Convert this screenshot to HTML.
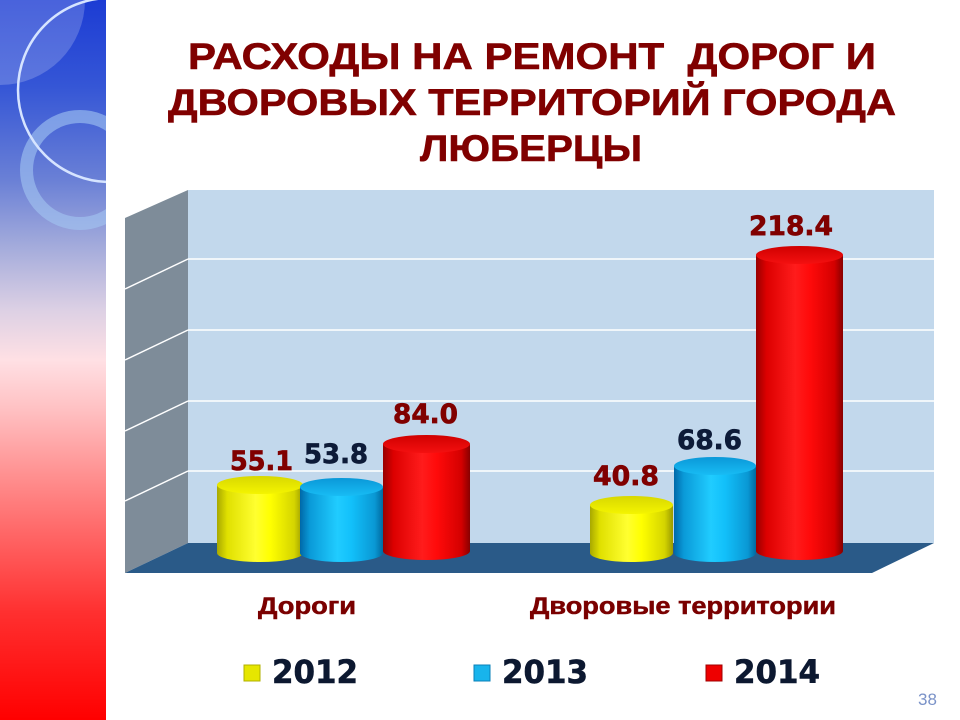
<!DOCTYPE html>
<html><head><meta charset="utf-8"><style>
html,body{margin:0;padding:0;background:#fff;}
svg{display:block;}
</style></head><body>
<svg width="960" height="720" viewBox="0 0 960 720" xmlns="http://www.w3.org/2000/svg">
<defs>
<linearGradient id="strip" x1="0" y1="0" x2="0" y2="1">
<stop offset="0" stop-color="#1c3cd4"/>
<stop offset="0.12" stop-color="#3556d6"/>
<stop offset="0.25" stop-color="#6a80d6"/>
<stop offset="0.34" stop-color="#a2aadb"/>
<stop offset="0.43" stop-color="#dcd0e4"/>
<stop offset="0.5" stop-color="#ffe0e4"/>
<stop offset="0.57" stop-color="#ffc0c2"/>
<stop offset="0.66" stop-color="#ff9090"/>
<stop offset="0.75" stop-color="#ff6262"/>
<stop offset="0.85" stop-color="#ff3030"/>
<stop offset="1" stop-color="#ff0000"/>
</linearGradient>
<clipPath id="stripclip"><rect x="0" y="0" width="106" height="720"/></clipPath>
<linearGradient id="yb" x1="0" y1="0" x2="1" y2="0">
<stop offset="0" stop-color="#a8a800"/><stop offset="0.12" stop-color="#e0e000"/>
<stop offset="0.45" stop-color="#ffff30"/><stop offset="0.62" stop-color="#ffff00"/>
<stop offset="0.9" stop-color="#d4d400"/><stop offset="1" stop-color="#9a9a00"/>
</linearGradient>
<linearGradient id="yt" x1="0" y1="0" x2="0" y2="1">
<stop offset="0" stop-color="#d8d800"/><stop offset="1" stop-color="#f4f400"/>
</linearGradient>
<linearGradient id="bb" x1="0" y1="0" x2="1" y2="0">
<stop offset="0" stop-color="#0068a8"/><stop offset="0.12" stop-color="#0a9ad8"/>
<stop offset="0.45" stop-color="#20ccff"/><stop offset="0.62" stop-color="#12c0fa"/>
<stop offset="0.9" stop-color="#0a98d4"/><stop offset="1" stop-color="#006aa0"/>
</linearGradient>
<linearGradient id="bt" x1="0" y1="0" x2="0" y2="1">
<stop offset="0" stop-color="#0a98d8"/><stop offset="1" stop-color="#18bcf4"/>
</linearGradient>
<linearGradient id="rb" x1="0" y1="0" x2="1" y2="0">
<stop offset="0" stop-color="#980000"/><stop offset="0.12" stop-color="#dc0000"/>
<stop offset="0.45" stop-color="#ff1c1c"/><stop offset="0.62" stop-color="#ff0a0a"/>
<stop offset="0.9" stop-color="#d40000"/><stop offset="1" stop-color="#880000"/>
</linearGradient>
<linearGradient id="rt" x1="0" y1="0" x2="0" y2="1">
<stop offset="0" stop-color="#d00000"/><stop offset="1" stop-color="#f41010"/>
</linearGradient>
</defs>

<!-- left decorative strip -->
<rect x="0" y="0" width="106" height="720" fill="url(#strip)"/>
<g clip-path="url(#stripclip)">
<path d="M0,0 L85,0 A85,85 0 0 1 0,85 Z" fill="#ffffff" fill-opacity="0.2"/>
<circle cx="80" cy="170" r="53.5" fill="none" stroke="#a4c6f2" stroke-opacity="0.6" stroke-width="13"/>
<circle cx="110" cy="90" r="92" fill="none" stroke="#d6e4ff" stroke-width="2.5"/>
</g>

<!-- title -->
<g font-family="'Liberation Sans', 'DejaVu Sans', sans-serif" font-weight="bold" font-size="37" fill="#800000" stroke="#800000" stroke-width="0.6">
<text x="188" y="69" textLength="688" lengthAdjust="spacingAndGlyphs" xml:space="preserve">РАСХОДЫ НА РЕМОНТ  ДОРОГ И</text>
<text x="168" y="115" textLength="728" lengthAdjust="spacingAndGlyphs">ДВОРОВЫХ ТЕРРИТОРИЙ ГОРОДА</text>
<text x="420" y="161" textLength="222" lengthAdjust="spacingAndGlyphs">ЛЮБЕРЦЫ</text>
</g>

<!-- chart walls -->
<rect x="188" y="190" width="746" height="353" fill="#c2d8ec"/>
<polygon points="125,218 188,190 188,543 125,573" fill="#7e8c99"/>
<g stroke="#ffffff" stroke-width="1.5">
<line x1="188" y1="259" x2="934" y2="259"/>
<line x1="188" y1="330" x2="934" y2="330"/>
<line x1="188" y1="401" x2="934" y2="401"/>
<line x1="188" y1="471" x2="934" y2="471"/>
<line x1="188" y1="259" x2="125" y2="289"/>
<line x1="188" y1="330" x2="125" y2="360"/>
<line x1="188" y1="401" x2="125" y2="431"/>
<line x1="188" y1="471" x2="125" y2="501"/>
</g>
<polygon points="188,543 934,543 872,573 125,573" fill="#2a5a88"/>

<!-- cylinders group 1 -->
<path d="M217,485 L217,553 A43,9 0 0 0 303,553 L303,485 Z" fill="url(#yb)"/>
<ellipse cx="260" cy="485" rx="43" ry="9" fill="url(#yt)"/>
<path d="M300,487 L300,553 A41.5,9 0 0 0 383,553 L383,487 Z" fill="url(#bb)"/>
<ellipse cx="341.5" cy="487" rx="41.5" ry="9" fill="url(#bt)"/>
<path d="M383,444 L383,551 A43.5,9 0 0 0 470,551 L470,444 Z" fill="url(#rb)"/>
<ellipse cx="426.5" cy="444" rx="43.5" ry="9" fill="url(#rt)"/>

<!-- cylinders group 2 -->
<path d="M590,505 L590,553 A41.5,9 0 0 0 673,553 L673,505 Z" fill="url(#yb)"/>
<ellipse cx="631.5" cy="505" rx="41.5" ry="9" fill="url(#yt)"/>
<path d="M674,466 L674,553 A41,9 0 0 0 756,553 L756,466 Z" fill="url(#bb)"/>
<ellipse cx="715" cy="466" rx="41" ry="9" fill="url(#bt)"/>
<path d="M756,255 L756,551 A43.5,9 0 0 0 843,551 L843,255 Z" fill="url(#rb)"/>
<ellipse cx="799.5" cy="255" rx="43.5" ry="9" fill="url(#rt)"/>

<!-- data labels -->
<g font-family="'DejaVu Sans', 'Liberation Sans', sans-serif" font-weight="bold" font-size="27" stroke-width="0.7">
<text x="230" y="470" textLength="63" lengthAdjust="spacingAndGlyphs" fill="#800000" stroke="#800000">55.1</text>
<text x="304" y="463" textLength="64" lengthAdjust="spacingAndGlyphs" fill="#0d1b38" stroke="#0d1b38">53.8</text>
<text x="393" y="423" textLength="65" lengthAdjust="spacingAndGlyphs" fill="#800000" stroke="#800000">84.0</text>
<text x="593" y="485" textLength="66" lengthAdjust="spacingAndGlyphs" fill="#800000" stroke="#800000">40.8</text>
<text x="677" y="449" textLength="65" lengthAdjust="spacingAndGlyphs" fill="#0d1b38" stroke="#0d1b38">68.6</text>
<text x="749" y="235" textLength="84" lengthAdjust="spacingAndGlyphs" fill="#800000" stroke="#800000">218.4</text>
</g>

<!-- category labels -->
<g font-family="'Liberation Sans', 'DejaVu Sans', sans-serif" font-weight="bold" font-size="24" fill="#7a0000" stroke="#7a0000" stroke-width="0.5">
<text x="258" y="614" textLength="98" lengthAdjust="spacingAndGlyphs">Дороги</text>
<text x="530" y="614" textLength="306" lengthAdjust="spacingAndGlyphs">Дворовые территории</text>
</g>

<!-- legend -->
<rect x="244" y="665" width="16" height="16" fill="#e6e600" stroke="#b0b000" stroke-width="1"/>
<rect x="474" y="665" width="16" height="16" fill="#18b4ec" stroke="#0a80b8" stroke-width="1"/>
<rect x="706" y="665" width="16" height="16" fill="#ee0000" stroke="#a00000" stroke-width="1"/>
<g font-family="'DejaVu Sans', 'Liberation Sans', sans-serif" font-weight="bold" font-size="32" fill="#0c1830" stroke="#0c1830" stroke-width="0.6">
<text x="272" y="683" textLength="86" lengthAdjust="spacingAndGlyphs">2012</text>
<text x="502" y="683" textLength="86" lengthAdjust="spacingAndGlyphs">2013</text>
<text x="734" y="683" textLength="86" lengthAdjust="spacingAndGlyphs">2014</text>
</g>

<text x="918" y="705" font-family="'Liberation Sans', sans-serif" font-size="17" fill="#7a92c8">38</text>
</svg>
</body></html>
